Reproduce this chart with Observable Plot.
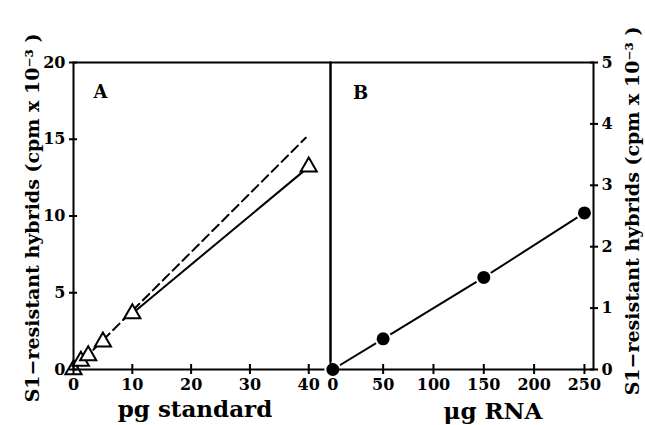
<!DOCTYPE html>
<html>
<head>
<meta charset="utf-8">
<script src="https://cdn.jsdelivr.net/npm/d3@7"></script>
<script src="https://cdn.jsdelivr.net/npm/@observablehq/plot@0.6"></script>
<style>
  html, body { margin: 0; padding: 0; background: #fff; }
  #chart { position: relative; width: 645px; height: 425px; overflow: hidden; }
  #chart > svg, #chart > figure { position: absolute; top: 0; margin: 0; }
  #chart svg { font-family: "DejaVu Serif" !important; font-weight: bold; }
</style>
</head>
<body>
<div id="chart"></div>
<script>
// Panel A: pg standard vs S1-resistant hybrids (cpm x 10^-3)
const stdPg = [0, 1.25, 2.5, 5, 10, 40];
const stdCpm = [0, 0.55, 0.9, 1.8, 3.65, 13.2];
// solid line through measured points (10 to 40 pg)
const solidA_x = [10, 40];
const solidA_y = [3.65, 13.2];
// dashed line: linear extrapolation of low points
const dashA_x = [0, 39.5];
const dashA_y = [0, 15.1];
const ticksAx = [0, 10, 20, 30, 40];
const ticksAy = [0, 5, 10, 15, 20];

// Panel B: ug RNA vs S1-resistant hybrids (cpm x 10^-3)
const rnaUg = [0, 50, 150, 250];
const rnaCpm = [0, 0.5, 1.5, 2.55];
const ticksBx = [0, 50, 100, 150, 200, 250];
const ticksBy = [0, 1, 2, 3, 4, 5];

const yLabel = "S1\u2212resistant hybrids (cpm x 10\u207B\u00B3 )";

const font = "DejaVu Serif";
const baseStyle = {fontFamily: font, fontWeight: "bold", fontSize: "16px", color: "black", background: "transparent", overflow: "visible"};
const fmt = d3.format("d");

const dataA = stdPg.map((x, i) => ({x, y: stdCpm[i]}));
const solidA = solidA_x.map((x, i) => ({x, y: solidA_y[i]}));
const dashA = dashA_x.map((x, i) => ({x, y: dashA_y[i]}));
const dataB = rnaUg.map((x, i) => ({x, y: rnaCpm[i]}));

const txt = {fontFamily: font, fontWeight: "bold", textAnchor: "middle", lineAnchor: "middle"};

const left = Plot.plot({
  width: 331, height: 425,
  marginLeft: 73, marginRight: 1, marginTop: 62, marginBottom: 56,
  x: {domain: [0, 43.7]},
  y: {domain: [0, 20]},
  style: baseStyle,
  marks: [
    Plot.line(dashA, {x: "x", y: "y", stroke: "black", strokeWidth: 2, strokeDasharray: "9,5"}),
    Plot.line(solidA, {x: "x", y: "y", stroke: "black", strokeWidth: 2}),
    Plot.dot(dataA, {x: "x", y: "y", symbol: "triangle", r: 6, fill: "white", stroke: "black", strokeWidth: 2}),
    Plot.frame({stroke: "black", strokeWidth: 2}),
    Plot.axisX({ticks: ticksAx, tickSize: 5, tickPadding: 4, strokeWidth: 2, label: null, fontSize: 16, fontFamily: font, fontWeight: "bold", tickFormat: fmt}),
    Plot.axisX({ticks: ticksAx, tickSize: 5, dy: -5, strokeWidth: 2, tickFormat: () => "", label: null}),
    Plot.axisY({ticks: ticksAy, tickSize: 4, tickPadding: 4, strokeWidth: 2, label: null, fontSize: 16, fontFamily: font, fontWeight: "bold", tickFormat: fmt}),
    Plot.axisY({ticks: ticksAy, tickSize: 4, dx: 4, strokeWidth: 2, tickFormat: () => "", label: null}),
    Plot.text([yLabel], {...txt, frameAnchor: "left", dx: -41, dy: 2, rotate: -90, fontSize: 19}),
    Plot.text(["pg standard"], {...txt, frameAnchor: "bottom", dx: -7, dy: 40, fontSize: 23}),
    Plot.text(["A"], {...txt, frameAnchor: "top-left", dx: 27, dy: 30, fontSize: 18})
  ]
});

const right = Plot.plot({
  width: 315, height: 425,
  marginLeft: 0, marginRight: 52, marginTop: 62, marginBottom: 56,
  x: {domain: [-2.3, 259]},
  y: {domain: [0, 5]},
  style: baseStyle,
  marks: [
    Plot.line(dataB, {x: "x", y: "y", stroke: "black", strokeWidth: 2}),
    Plot.dot(dataB, {x: "x", y: "y", r: 7.5, fill: "black", stroke: "white", strokeWidth: 2}),
    Plot.frame({stroke: "black", strokeWidth: 2}),
    Plot.axisX({ticks: ticksBx, tickSize: 5, tickPadding: 4, strokeWidth: 2, label: null, fontSize: 16, fontFamily: font, fontWeight: "bold", tickFormat: fmt}),
    Plot.axisX({ticks: ticksBx, tickSize: 5, dy: -5, strokeWidth: 2, tickFormat: () => "", label: null}),
    Plot.axisY({anchor: "right", ticks: ticksBy, tickSize: 4, tickPadding: 4, strokeWidth: 2, label: null, fontSize: 16, fontFamily: font, fontWeight: "bold", tickFormat: fmt}),
    Plot.axisY({anchor: "right", ticks: ticksBy, tickSize: 4, dx: -4, strokeWidth: 2, tickFormat: () => "", label: null}),
    Plot.text([yLabel], {...txt, frameAnchor: "right", dx: 39, dy: -5, rotate: -90, fontSize: 19}),
    Plot.text(["\u03BCg RNA"], {...txt, frameAnchor: "bottom", dx: 31, dy: 42, fontSize: 23}),
    Plot.text(["B"], {...txt, frameAnchor: "top-left", dx: 30, dy: 31, fontSize: 18})
  ]
});

left.style.left = "0px";
right.style.left = "330px";
const chart = document.getElementById("chart");
chart.appendChild(left);
chart.appendChild(right);
</script>
</body>
</html>
